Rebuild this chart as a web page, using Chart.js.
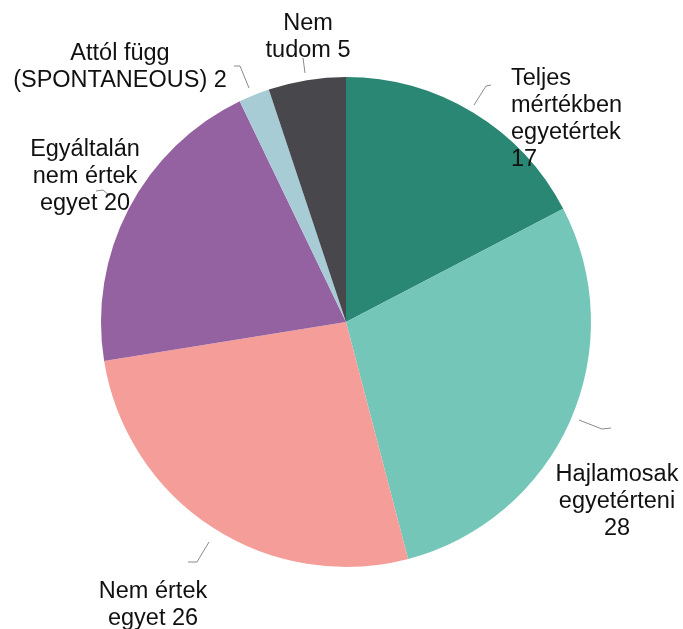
<!DOCTYPE html>
<html>
<head>
<meta charset="utf-8">
<script src="https://cdn.jsdelivr.net/npm/chart.js@4/dist/chart.umd.min.js"></script>
<style>
  html, body { margin: 0; padding: 0; background: #ffffff; }
  #wrap { width: 683px; height: 629px; }
</style>
</head>
<body>
<div id="wrap"><canvas id="c" width="683" height="629"></canvas></div>
<script>
// ---- data ----
const categories = [
  "Teljes mértékben egyetértek",
  "Hajlamosak egyetérteni",
  "Nem értek egyet",
  "Egyáltalán nem értek egyet",
  "Attól függ (SPONTANEOUS)",
  "Nem tudom"
];
const values = [17, 28, 26, 20, 2, 5];
const labelLines = [
  ["Teljes", "mértékben", "egyetértek", "17"],
  ["Hajlamosak", "egyetérteni", "28"],
  ["Nem értek", "egyet 26"],
  ["Egyáltalán", "nem értek", "egyet 20"],
  ["Attól függ", "(SPONTANEOUS) 2"],
  ["Nem", "tudom 5"]
];
const colors = ["#2a8773", "#74c6b8", "#f49d99", "#9462a0", "#a8ccd6", "#48484c"];

// ---- label layout (offsets from pie centre, px) ----
const labelStyle = [
  { align: "left",   dx: 165,  dy: -243, leader: [[145,-237],[140,-236],[128,-217]] },
  { align: "center", dx: 271,  dy: 153,  leader: [[233,98],[256,107],[265,106]] },
  { align: "center", dx: -193, dy: 270,  leader: [[-137,220],[-149,240],[-158,240]] },
  { align: "center", dx: -261, dy: -172, leader: [[-250,-131],[-243,-132],[-236,-126]] },
  { align: "center", dx: -226, dy: -268, leader: [[-112,-256],[-106,-256],[-97,-234]] },
  { align: "center", dx: -38,  dy: -298, leader: [[-43,-264],[-41,-249]] }
];
const FONT = '23.5px "Liberation Sans", Arial, sans-serif';
const LINE_H = 27;

const labelPlugin = {
  id: "pieLabels",
  afterDatasetsDraw(chart) {
    const ctx = chart.ctx;
    const meta = chart.getDatasetMeta(0);
    meta.data.forEach((arc, i) => {
      const cx = arc.x, cy = arc.y;
      const st = labelStyle[i];
      // leader line
      ctx.save();
      ctx.strokeStyle = "#8a8a8a";
      ctx.lineWidth = 1;
      ctx.beginPath();
      st.leader.forEach((p, k) => {
        const x = cx + p[0], y = cy + p[1];
        if (k === 0) ctx.moveTo(x, y); else ctx.lineTo(x, y);
      });
      ctx.stroke();
      ctx.restore();
      // text
      ctx.save();
      ctx.font = FONT;
      ctx.fillStyle = "#111111";
      ctx.textAlign = st.align;
      ctx.textBaseline = "middle";
      labelLines[i].forEach((t, k) => {
        ctx.fillText(t, cx + st.dx, cy + st.dy + k * LINE_H);
      });
      ctx.restore();
    });
  }
};

new Chart(document.getElementById("c"), {
  type: "pie",
  data: {
    labels: categories,
    datasets: [{
      data: values,
      backgroundColor: colors,
      borderWidth: 0
    }]
  },
  options: {
    responsive: false,
    animation: false,
    layout: { padding: { left: 101, right: 92, top: 77, bottom: 62 } },
    plugins: {
      legend: { display: false },
      tooltip: { enabled: false }
    }
  },
  plugins: [labelPlugin]
});
</script>
</body>
</html>
